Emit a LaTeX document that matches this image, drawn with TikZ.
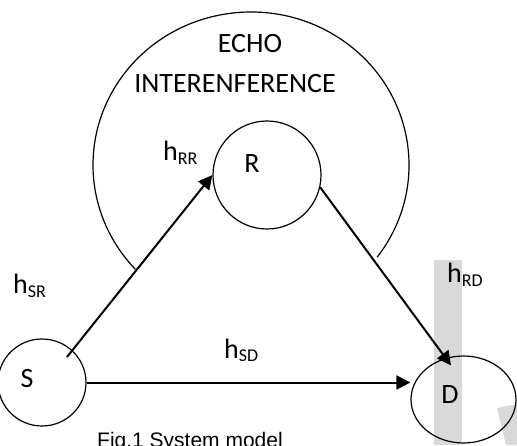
\documentclass[tikz,border=0pt]{standalone}
\usepackage{fontspec}
\setmainfont{Carlito}
\newfontfamily\captionfont{Liberation Sans}
\usetikzlibrary{shapes.geometric,arrows.meta}
\definecolor{bandgray}{RGB}{217, 217, 217}
\newcommand{\chan}[1]{h\raisebox{-3.5pt}{\fontsize{18}{18}\selectfont #1}}

\begin{document}
\begin{tikzpicture}[
        x=1pt, y=1pt,
        every node/.style={inner sep=0pt},
        station/.style={draw, line width=1.2pt, ellipse,
            minimum width=88pt, minimum height=87pt},
        relay/.style={draw, line width=1.2pt, circle, minimum size=108pt},
        letter/.style={font=\fontsize{28}{30}\selectfont},
        gain/.style={anchor=base west, font=\fontsize{28}{30}\selectfont},
        link/.style={line width=2pt, -{Triangle[length=14pt,width=14pt]}}
    ]
    \useasboundingbox (0,0) rectangle (517,445);
    \clip (0,0) rectangle (517,445);

    % grey marks behind the picture
    \fill[bandgray] (434,0) rectangle (462,185);
    \fill[bandgray] (497,37) -- (517,41) -- (517,0) -- (506,0) -- cycle;

    % echo region
    \draw[line width=1.2pt] (251,280) ++(-37:158pt and 153pt)
        arc[start angle=-37, end angle=223, x radius=158pt, y radius=153pt];
    \node[letter, anchor=base] (echo) at (250,392) {ECHO};
    \node[letter, anchor=base] (interference) at (235,352) {INTERENFERENCE};

    % terminals
    \node[station] (S) at (42,62.5) {};
    \node[relay] (R) at (267,270) {};
    \node[station, minimum width=105pt] (D) at (463.5,45.5) {};
    \node[letter] (Stext) at ([shift={(-15,3.5)}]S.center) {S};
    \node[letter] (Rtext) at ([shift={(-15,11)}]R.center) {R};
    \node[letter] (Dtext) at ([shift={(-13.5,4.5)}]D.center) {D};

    % links
    \draw[link] ([shift={(25,25.5)}]S.center) -- (R.west);
    \draw[link] (R.-13) -- ([shift={(-12.5,-10)}]D.north);
    \draw[link] (S.east) -- (S.east -| D.west);

    % channel gains
    \node[gain] (hRR) at (163,284.3) {\chan{RR}};
    \node[gain] (hSR) at (13,151) {\chan{SR}};
    \node[gain] (hRD) at (447,162) {\chan{RD}};
    \begin{scope}
        \clip (200,85) rectangle (300,120);
        \node[gain] (hSD) at (224,87) {\chan{SD}};
    \end{scope}

    \node[anchor=base west, font=\captionfont\fontsize{21}{24}\selectfont]
        (caption) at (97,-2) {Fig.1 System model};
\end{tikzpicture}
\end{document}
